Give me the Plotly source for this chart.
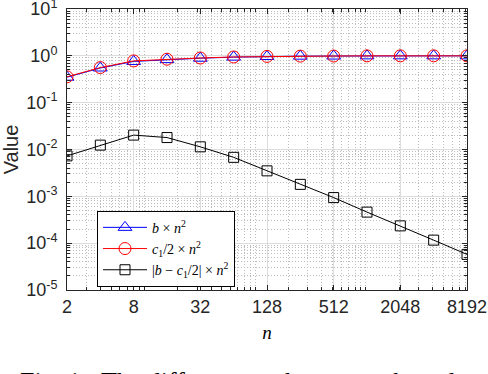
import plotly.graph_objects as go

n = [2, 4, 8, 16, 32, 64, 128, 256, 512, 1024, 2048, 4096, 8192]
b_n2 = [0.35, 0.55, 0.76, 0.83, 0.89, 0.94, 0.97, 0.985, 0.99, 1.0, 1.0, 1.0, 1.0]
c_half_n2 = [0.357, 0.562, 0.78, 0.848, 0.90, 0.947, 0.973, 0.987, 0.991, 1.0, 1.0, 1.0, 1.0]
diff_n2 = [0.0073, 0.0124, 0.0203, 0.018, 0.0114, 0.0068, 0.0035, 0.0018,
           0.00094, 0.00046, 0.000234, 0.000116, 0.0000575]

x_ticks = [2, 8, 32, 128, 512, 2048, 8192]
y_ticks = [1e-5, 1e-4, 1e-3, 1e-2, 1e-1, 1, 10]
y_tick_text = ["10<sup>-5</sup>", "10<sup>-4</sup>", "10<sup>-3</sup>", "10<sup>-2</sup>",
               "10<sup>-1</sup>", "10<sup>0</sup>", "10<sup>1</sup>"]

x_minor = [m * 10 ** k for k in range(0, 4) for m in range(1, 10) if 2 <= m * 10 ** k <= 8192]
y_minor = [m * 10.0 ** k for k in range(-5, 1) for m in range(2, 10)]

fig = go.Figure()
fig.add_trace(go.Scatter(x=n, y=b_n2, mode="lines+markers", name="<i>b</i> × <i>n</i><sup>2</sup>",
                         line=dict(color="blue", width=1),
                         marker=dict(symbol="triangle-up-open", size=12, color="blue", line=dict(width=1))))
fig.add_trace(go.Scatter(x=n, y=c_half_n2, mode="lines+markers",
                         name="<i>c</i><sub>1</sub>/2 × <i>n</i><sup>2</sup>",
                         line=dict(color="red", width=1),
                         marker=dict(symbol="circle-open", size=12, color="red", line=dict(width=1))))
fig.add_trace(go.Scatter(x=n, y=diff_n2, mode="lines+markers",
                         name="|<i>b</i> − <i>c</i><sub>1</sub>/2| × <i>n</i><sup>2</sup>",
                         line=dict(color="black", width=1),
                         marker=dict(symbol="square-open", size=10, color="black", line=dict(width=1))))

axis_font = dict(family="Liberation Sans, Arial", size=18, color="#262626")
minor_dash = "1px,2px"

fig.update_xaxes(type="log", range=[0.30103, 3.91339], tickvals=x_ticks, automargin=False,
                 ticktext=[str(v) for v in x_ticks], tickfont=axis_font, ticklabeloverflow="allow",
                 showline=True, linecolor="#262626", linewidth=1, mirror="allticks",
                 ticks="inside", ticklen=5, tickcolor="#262626",
                 showgrid=True, gridcolor="#dcdcdc", gridwidth=1, zeroline=False,
                 minor=dict(tickvals=x_minor, ticks="inside", ticklen=3, tickcolor="#262626",
                            showgrid=True, gridcolor="#bdbdbd", griddash=minor_dash, gridwidth=1),
                 title=dict(text="<i>n</i>", font=dict(family="Liberation Serif", size=19, color="black"),
                            standoff=10))
fig.update_yaxes(type="log", range=[-5.0005, 1.0005], tickvals=y_ticks, ticktext=y_tick_text,
                 tickfont=axis_font, automargin=False, ticklabeloverflow="allow", ticklabelstandoff=5,
                 showline=True, linecolor="#262626", linewidth=1, mirror="allticks",
                 ticks="inside", ticklen=5, tickcolor="#262626",
                 showgrid=True, gridcolor="#dcdcdc", gridwidth=1, zeroline=False,
                 minor=dict(tickvals=y_minor, ticks="inside", ticklen=3, tickcolor="#262626",
                            showgrid=True, gridcolor="#bdbdbd", griddash=minor_dash, gridwidth=1),
                 title=dict(text="Value", font=dict(family="Liberation Sans, Arial", size=20, color="#262626"),
                            standoff=9))

fig.update_layout(
    width=488, height=374,
    margin=dict(l=67, r=21, t=9, b=84),
    plot_bgcolor="white", paper_bgcolor="white",
    showlegend=True,
    legend=dict(x=0.075, y=0.282, xanchor="left", yanchor="top",
                bgcolor="white", bordercolor="black", borderwidth=1,
                font=dict(family="Liberation Serif", size=14, color="black"),
                tracegroupgap=0, itemwidth=44),
)

sp = "\u00a0"
caption = ("Fig. 1:" + sp * 2 + "The" + sp + "difference" + sp * 5 + "between" + sp * 3
           + "<i>b</i>" + sp * 2 + "and" + sp * 2 + "<i>c</i><sub>1</sub>")
fig.add_annotation(text=caption,
                   xref="paper", yref="paper", x=-0.1225, y=-0.267, xanchor="left", yanchor="top",
                   showarrow=False, font=dict(family="Liberation Serif", size=26, color="black"))

fig.write_html("out.html", config={"displayModeBar": False},
               post_script="document.body.style.margin='0';")
